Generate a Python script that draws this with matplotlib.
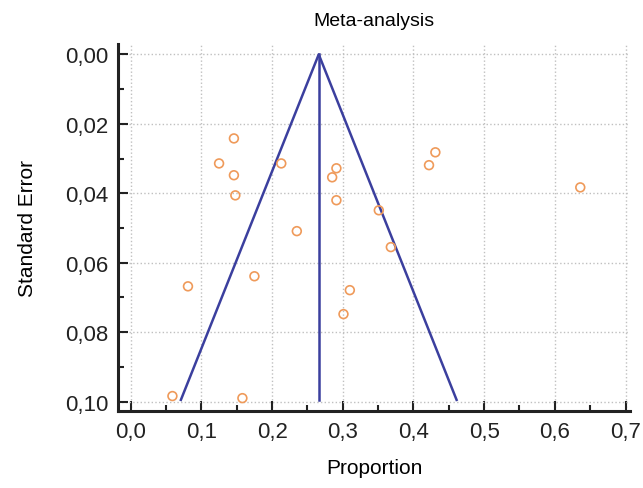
import matplotlib
matplotlib.use("Agg")
import matplotlib.pyplot as plt
from matplotlib.ticker import FuncFormatter, MultipleLocator

plt.rcParams["font.family"] = ["Liberation Sans", "DejaVu Sans"]

# study estimates
proportion = [0.146, 0.125, 0.146, 0.148, 0.213, 0.291, 0.285, 0.291, 0.431, 0.422,
              0.636, 0.351, 0.368, 0.235, 0.175, 0.081, 0.310, 0.301, 0.059, 0.158]
std_error = [0.0242, 0.0314, 0.0348, 0.0406, 0.0314, 0.0328, 0.0354, 0.0420, 0.0282, 0.0319,
             0.0383, 0.0449, 0.0555, 0.0509, 0.0639, 0.0668, 0.0679, 0.0748, 0.0984, 0.0990]

pooled = 0.266
se_max = 0.0995

fig = plt.figure(figsize=(6.43, 4.89), dpi=100)
ax = fig.add_axes([0.1835, 0.1575, 0.797, 0.7505])

blue = "#3b3f9e"
ax.plot([pooled - 1.96 * se_max, pooled, pooled + 1.96 * se_max], [se_max, 0, se_max],
        color=blue, lw=1.8)
ax.plot([pooled, pooled], [0, se_max], color=blue, lw=1.8)
ax.scatter(proportion, std_error, s=40, facecolors="none", edgecolors="#ef9a5a",
           linewidths=1.2, zorder=3)

ax.set_xlim(-0.018, 0.707)
ax.set_ylim(0.1027, -0.003)
ax.xaxis.set_major_locator(MultipleLocator(0.1))
ax.xaxis.set_minor_locator(MultipleLocator(0.05))
ax.yaxis.set_major_locator(MultipleLocator(0.02))
ax.yaxis.set_minor_locator(MultipleLocator(0.01))
ax.xaxis.set_major_formatter(FuncFormatter(lambda v, p: f"{v:.1f}".replace(".", ",")))
ax.yaxis.set_major_formatter(FuncFormatter(lambda v, p: f"{v:.2f}".replace(".", ",")))

ax.grid(True, which="major", color="#c0c0c0", ls=":", lw=1.0)
ax.tick_params(which="both", direction="in", width=1.5, labelsize=16, colors="#222222", pad=7)
ax.tick_params(which="major", length=7)
ax.tick_params(which="minor", length=4)
for s in ["top", "right"]:
    ax.spines[s].set_visible(False)
for s in ["left", "bottom"]:
    ax.spines[s].set_linewidth(2.2)
    ax.spines[s].set_color("#222222")

ax.set_title("Meta-analysis", fontsize=14, pad=14)
ax.set_xlabel("Proportion", fontsize=15, labelpad=12)
ax.set_ylabel("Standard Error", fontsize=15, labelpad=20)

fig.savefig("out.png", dpi=100)
